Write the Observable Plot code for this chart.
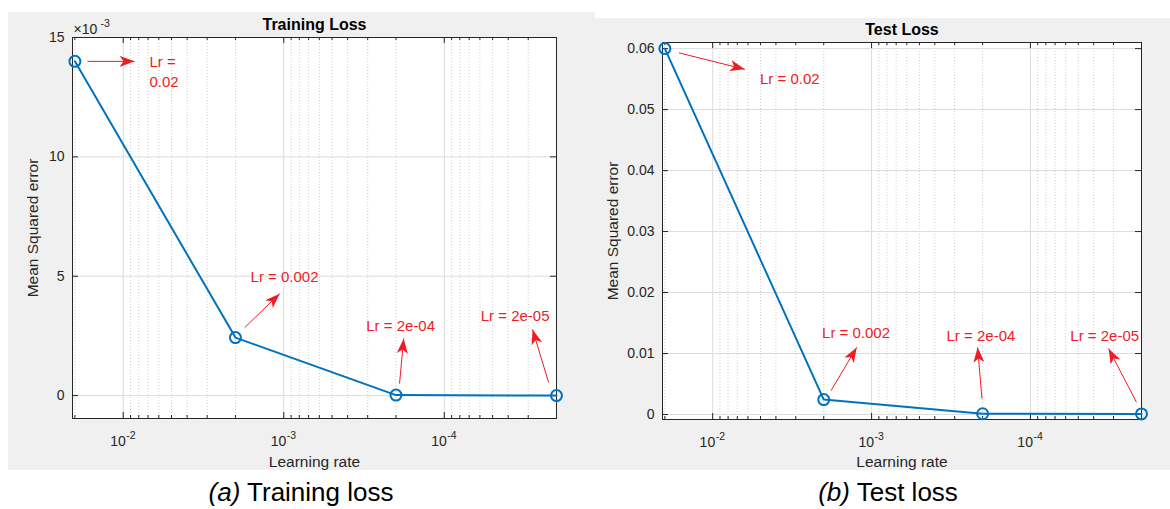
<!DOCTYPE html>
<html>
<head>
<meta charset="utf-8">
<script src="https://cdn.jsdelivr.net/npm/d3@7"></script>
<script src="https://cdn.jsdelivr.net/npm/@observablehq/plot@0.6"></script>
<style>
  body { margin: 0; background: #fff; font-family: "Liberation Sans", Arial, Helvetica, sans-serif; }
  #wrap { position: relative; width: 1170px; height: 509px; overflow: hidden; }
  .panel { position: absolute; }
  .panel svg { display: block; }
  .cap { position: absolute; font-size: 26px; line-height: 26px; color: #000; white-space: nowrap; transform: translateX(-50%); }
</style>
</head>
<body>
<div id="wrap">
  <div id="train" class="panel" style="left:8px;top:12px"></div>
  <div id="test" class="panel" style="left:595px;top:18px"></div>
  <div class="cap" style="left:301px;top:479px"><i>(a)</i> Training loss</div>
  <div class="cap" style="left:888px;top:479px"><i>(b)</i> Test loss</div>
</div>
<script>
// ---- data -------------------------------------------------------------
const learningRates = [0.02, 0.002, 2e-4, 2e-5];
const trainLabels = ["Lr =\n0.02", "Lr = 0.002", "Lr = 2e-04", "Lr = 2e-05"];
const testLabels = ["Lr = 0.02", "Lr = 0.002", "Lr = 2e-04", "Lr = 2e-05"];
const trainMSE = [0.0140, 0.00243, 0.00002, 0.0];
const testMSE = [0.0600, 0.00245, 0.00012, 0.00010];

// log-axis ticks: base and superscript power of each label
const xTicks = [1e-2, 1e-3, 1e-4];
const xTickBase = ["10", "10", "10"];
const xTickPower = ["-2", "-3", "-4"];
const trainYTicks = [0, 0.005, 0.010, 0.015];
const trainYTickLabels = ["0", "5", "10", "15"];
const trainScaleBase = "\u00D710";
const trainScalePower = "-3";
const testYTicks = [0, 0.01, 0.02, 0.03, 0.04, 0.05, 0.06];
const testYTickLabels = ["0", "0.01", "0.02", "0.03", "0.04", "0.05", "0.06"];

// annotation arrows (tail -> head) and their label anchors, in data units
const trainArrows = [
  {x1: 0.0167, y1: 0.0140, x2: 0.0085, y2: 0.0140},
  {x1: 0.00175, y1: 0.00285, x2: 0.00106, y2: 0.00427},
  {x1: 1.90e-4, y1: 0.00050, x2: 1.79e-4, y2: 0.00239},
  {x1: 2.24e-5, y1: 0.00055, x2: 2.82e-5, y2: 0.00277}
];
const trainNotes = [
  {x: 0.00686, y: 0.0136, anchor: "start"},
  {x: 0.00161, y: 0.0050, anchor: "start"},
  {x: 1.87e-4, y: 0.00289, anchor: "middle"},
  {x: 3.62e-5, y: 0.00331, anchor: "middle"}
];
const testArrows = [
  {x1: 0.0163, y1: 0.0593, x2: 0.00627, y2: 0.0566},
  {x1: 0.0018, y1: 0.0039, x2: 0.00124, y2: 0.0110},
  {x1: 2.02e-4, y1: 0.0026, x2: 2.15e-4, y2: 0.0110},
  {x1: 2.15e-5, y1: 0.0020, x2: 3.22e-5, y2: 0.0108}
];
const testNotes = [
  {x: 0.00504, y: 0.0553, anchor: "start"},
  {x: 0.00205, y: 0.0136, anchor: "start"},
  {x: 2.05e-4, y: 0.0128, anchor: "middle"},
  {x: 3.41e-5, y: 0.0128, anchor: "middle"}
];

// ---- styling -----------------------------------------------------------
const FONT = "'Liberation Sans', Arial, Helvetica, sans-serif";
const BLUE = "#0072BD";
const RED = "#ee1c24";
const INK = "#262626";
const xDomain = [0.0207, 2e-5];
const minorTicks = [-5, -4, -3, -2]
  .flatMap(e => d3.range(2, 10).map(k => +(k * Math.pow(10, e)).toPrecision(6)))
  .filter(v => v > 2e-5 && v < 0.0207);

// Replace Plot's open chevron markers with filled, notched arrowheads
function solidHeads(svg, color) {
  svg.querySelectorAll("marker").forEach(m => {
    m.setAttribute("viewBox", "-15 -6 16 12");
    m.setAttribute("markerWidth", 16);
    m.setAttribute("markerHeight", 12);
    m.setAttribute("markerUnits", "userSpaceOnUse");
    m.setAttribute("fill", color);
    m.setAttribute("stroke", "none");
    m.removeAttribute("stroke-width");
    while (m.firstChild) m.removeChild(m.firstChild);
    const p = document.createElementNS("http://www.w3.org/2000/svg", "path");
    p.setAttribute("d", "M-15,-5.5L0,0L-15,5.5L-11,0Z");
    m.appendChild(p);
  });
}

function drawPanel(cfg) {
  const {width, height, mt, mr, mb, ml} = cfg;
  const fw = width - ml - mr, fh = height - mt - mb;
  const rows = learningRates.map((lr, i) => ({lr, mse: cfg.values[i]}));
  const notes = cfg.notes.map((n, i) => ({...n, text: cfg.labels[i]}));
  const ticks = xTicks.map((v, i) => ({v, base: xTickBase[i], power: xTickPower[i]}));
  const scaleMarks = cfg.scaleBase
    ? [
        Plot.text([cfg.scaleBase], {frameAnchor: "top-left", textAnchor: "start", lineAnchor: "middle", dx: 1, dy: -8, fontSize: 14, fill: INK}),
        Plot.text([cfg.scalePower], {frameAnchor: "top-left", textAnchor: "start", lineAnchor: "middle", dx: 28, dy: -14, fontSize: 10.5, fill: INK})
      ]
    : [];
  const svg = Plot.plot({
    width, height,
    marginTop: mt, marginRight: mr, marginBottom: mb, marginLeft: ml,
    style: {background: "#f0f0f0", fontFamily: FONT, fontSize: "14px", color: INK, overflow: "visible"},
    x: {type: "log", domain: xDomain, axis: null},
    y: {domain: cfg.yDomain, axis: null},
    marks: [
      Plot.frame({fill: "white", stroke: "none"}),
      // grid: dotted minor x lines, solid major lines
      Plot.ruleX(minorTicks, {stroke: "#cdcdcd", strokeDasharray: "1,2"}),
      Plot.ruleX(xTicks, {stroke: "#dcdcdc"}),
      Plot.ruleY(cfg.yTicks, {stroke: "#dcdcdc"}),
      // inward ticks on all four sides of the box
      Plot.ruleX(xTicks, {stroke: INK, insetTop: fh - 6}),
      Plot.ruleX(xTicks, {stroke: INK, insetBottom: fh - 6}),
      Plot.ruleX(minorTicks, {stroke: INK, insetTop: fh - 3}),
      Plot.ruleX(minorTicks, {stroke: INK, insetBottom: fh - 3}),
      Plot.ruleY(cfg.yTicks, {stroke: INK, insetRight: fw - 6}),
      Plot.ruleY(cfg.yTicks, {stroke: INK, insetLeft: fw - 6}),
      Plot.frame({stroke: INK}),
      // x tick labels as 10 with a raised power
      Plot.text(ticks, {x: "v", text: "base", frameAnchor: "bottom", textAnchor: "end", lineAnchor: "middle", dx: 2.5, dy: 23, fontSize: 14, fill: INK}),
      Plot.text(ticks, {x: "v", text: "power", frameAnchor: "bottom", textAnchor: "start", lineAnchor: "middle", dx: 3, dy: 17, fontSize: 10.5, fill: INK}),
      Plot.axisY(cfg.yTicks, {tickSize: 0, tickPadding: 8, label: null, fontSize: 14, fill: INK,
        tickFormat: d => cfg.yTickLabels[cfg.yTicks.indexOf(d)]}),
      Plot.text([cfg.title], {frameAnchor: "top", lineAnchor: "middle", dy: -13, fontWeight: "bold", fontSize: 16, fill: "#000"}),
      Plot.text(["Learning rate"], {frameAnchor: "bottom", lineAnchor: "middle", dy: cfg.xLabelDy, fontSize: 15.5, fill: INK}),
      Plot.text(["Mean Squared error"], {frameAnchor: "left", textAnchor: "middle", lineAnchor: "middle", rotate: -90, dx: cfg.yLabelDx, fontSize: 15.5, fill: INK}),
      ...scaleMarks,
      Plot.line(rows, {x: "lr", y: "mse", stroke: BLUE, strokeWidth: 2}),
      Plot.dot(rows, {x: "lr", y: "mse", r: 5.5, stroke: BLUE, strokeWidth: 2, fill: "none"}),
      Plot.link(cfg.arrows, {x1: "x1", y1: "y1", x2: "x2", y2: "y2", stroke: RED, strokeWidth: 1, markerEnd: "arrow"}),
      Plot.text(notes.filter(n => n.anchor === "start"), {x: "x", y: "y", text: "text", textAnchor: "start", lineAnchor: "middle", lineHeight: 1.3, fontSize: 15, fill: RED}),
      Plot.text(notes.filter(n => n.anchor === "middle"), {x: "x", y: "y", text: "text", textAnchor: "middle", lineAnchor: "middle", fontSize: 15, fill: RED})
    ]
  });
  solidHeads(svg, RED);
  document.getElementById(cfg.el).appendChild(svg);
}

drawPanel({
  el: "train", title: "Training Loss", scaleBase: trainScaleBase, scalePower: trainScalePower,
  width: 587, height: 458, mt: 25, mr: 39, mb: 52, ml: 64,
  yDomain: [-0.00096, 0.015], yTicks: trainYTicks, yTickLabels: trainYTickLabels,
  values: trainMSE, labels: trainLabels, arrows: trainArrows, notes: trainNotes,
  xLabelDy: 44, yLabelDx: -39
});

drawPanel({
  el: "test", title: "Test Loss", scaleBase: null,
  width: 575, height: 452, mt: 24, mr: 29, mb: 51, ml: 67,
  yDomain: [-0.00082, 0.061], yTicks: testYTicks, yTickLabels: testYTickLabels,
  values: testMSE, labels: testLabels, arrows: testArrows, notes: testNotes,
  xLabelDy: 43, yLabelDx: -49.5
});
</script>
</body>
</html>
